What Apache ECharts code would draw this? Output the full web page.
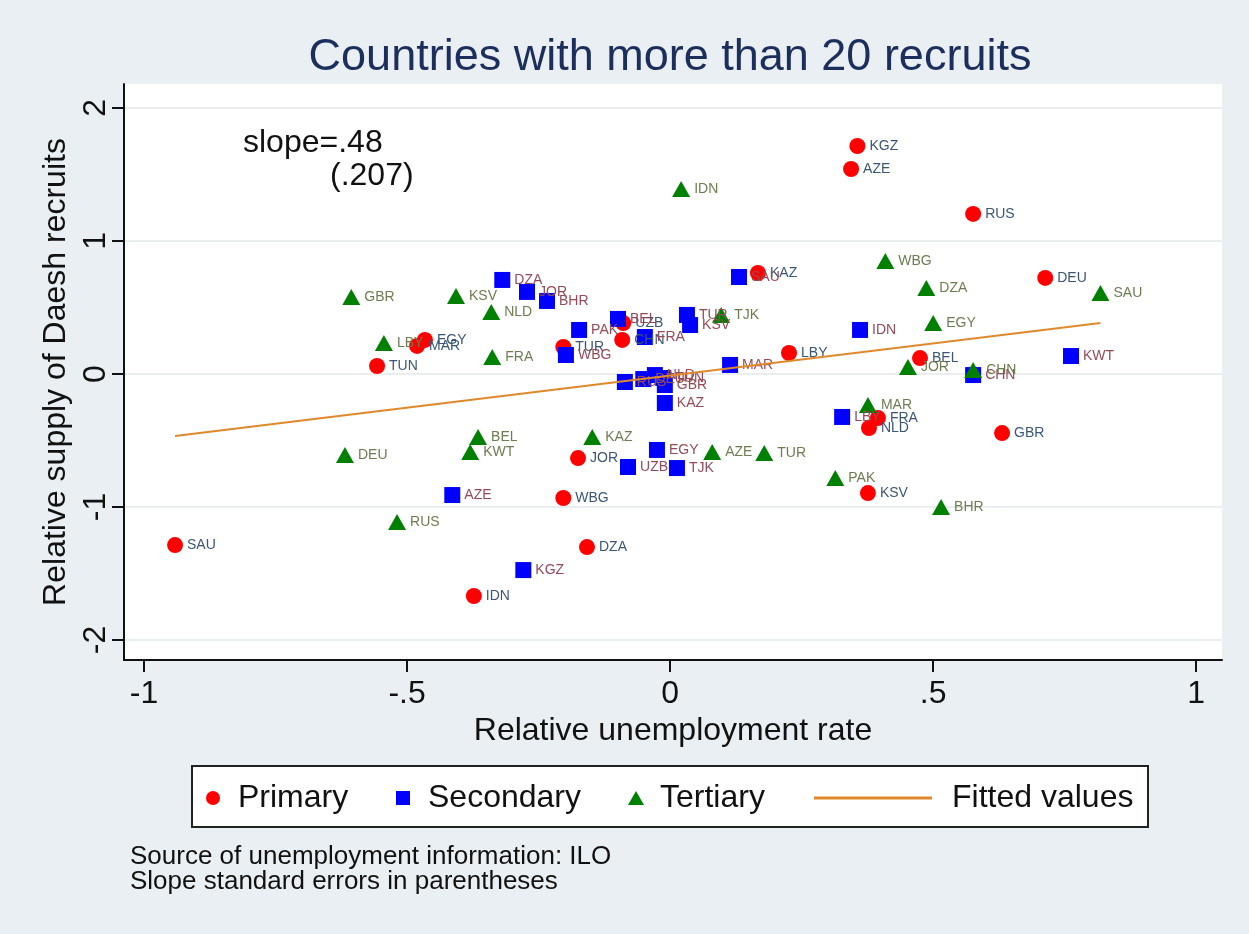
<!DOCTYPE html>
<html>
<head>
<meta charset="utf-8">
<script src="https://cdn.jsdelivr.net/npm/echarts@6/dist/echarts.min.js"></script>
<style>
  html, body { margin: 0; padding: 0; background: #e9eff3; }
  #chart { width: 1249px; height: 934px; }
</style>
</head>
<body>
<div id="chart"></div>
<script>
// Primary-education recruits: relative unemployment vs relative supply
const primaryCodes = ['KGZ','AZE','RUS','KAZ','DEU','BEL','LBY','GBR','NLD','FRA','KSV','JOR','WBG','DZA','IDN','SAU','TUN','EGY','MAR','TUR','UZB','CHN'];
const primaryX = [0.356, 0.344, 0.576, 0.167, 0.713, 0.475, 0.226, 0.631, 0.378, 0.395, 0.376, -0.175, -0.203, -0.158, -0.373, -0.941, -0.557, -0.466, -0.481, -0.203, -0.089, -0.091];
const primaryY = [1.714, 1.541, 1.203, 0.759, 0.722, 0.120, 0.158, -0.444, -0.406, -0.331, -0.895, -0.632, -0.932, -1.301, -1.669, -1.286, 0.060, 0.256, 0.211, 0.203, 0.383, 0.256];

// Secondary-education recruits
const secondaryCodes = ['DZA','JOR','BHR','PAK','WBG','BEL','FRA','TUR','KSV','SAU','MAR','RUS','DEU','NLD','TUN','GBR','KAZ','EGY','UZB','TJK','AZE','KGZ','IDN','LBY','CHN','KWT'];
const secondaryX = [-0.319, -0.272, -0.234, -0.173, -0.198, -0.099, -0.048, 0.032, 0.038, 0.131, 0.114, -0.086, -0.051, -0.029, -0.013, -0.010, -0.010, -0.025, -0.080, 0.013, -0.414, -0.279, 0.361, 0.327, 0.576, 0.762];
const secondaryY = [0.707, 0.617, 0.549, 0.331, 0.143, 0.414, 0.278, 0.444, 0.368, 0.729, 0.068, -0.060, -0.038, -0.008, -0.030, -0.083, -0.218, -0.571, -0.699, -0.707, -0.910, -1.474, 0.331, -0.323, -0.008, 0.135];

// Tertiary-education recruits
const tertiaryCodes = ['IDN','WBG','DZA','SAU','EGY','JOR','CHN','TJK','GBR','KSV','NLD','LBY','FRA','MAR','PAK','BHR','DEU','BEL','KWT','RUS','KAZ','AZE','TUR'];
const tertiaryX = [0.021, 0.409, 0.487, 0.818, 0.500, 0.452, 0.576, 0.097, -0.606, -0.407, -0.340, -0.544, -0.338, 0.376, 0.314, 0.515, -0.618, -0.365, -0.380, -0.519, -0.148, 0.080, 0.179];
const tertiaryY = [1.391, 0.850, 0.647, 0.609, 0.383, 0.053, 0.030, 0.444, 0.579, 0.586, 0.466, 0.233, 0.128, -0.233, -0.782, -1.000, -0.609, -0.474, -0.586, -1.113, -0.474, -0.586, -0.594];

// Fitted regression line endpoints
const fittedX = [-0.941, 0.818];
const fittedY = [-0.466, 0.383];

// Axis ticks
const xTicks = [-1, -0.5, 0, 0.5, 1];
const xTickLabels = ['-1', '-.5', '0', '.5', '1'];
const yTicks = [-2, -1, 0, 1, 2];
const yTickLabels = ['-2', '-1', '0', '1', '2'];

const FONT = '"Liberation Sans", Arial, Helvetica, sans-serif';
const INK = '#111111';

function points(codes, xs, ys) {
  return codes.map((c, i) => ({ name: c, value: [xs[i], ys[i]] }));
}
function tickText(ticks, labels) {
  return v => {
    const i = ticks.findIndex(t => Math.abs(t - v) < 1e-9);
    return i >= 0 ? labels[i] : '';
  };
}

function markerLabel(color) {
  return {
    show: true, position: 'right', distance: 4, formatter: '{b}',
    fontFamily: FONT, fontSize: 14, color: color
  };
}

const chart = echarts.init(document.getElementById('chart'), null, { renderer: 'canvas' });

const option = {
  backgroundColor: '#e9eff3',
  animation: false,
  textStyle: { fontFamily: FONT },
  grid: {
    left: 124, top: 84, right: 27, bottom: 274,
    show: true, backgroundColor: '#ffffff', borderWidth: 0
  },
  xAxis: {
    type: 'value', min: -1.038, max: 1.049,
    axisLine: { show: true, onZero: false, lineStyle: { color: INK, width: 2 } },
    axisTick: { show: true, customValues: xTicks, length: 12, lineStyle: { color: INK, width: 2 } },
    axisLabel: { customValues: xTicks, formatter: tickText(xTicks, xTickLabels), fontSize: 32, color: INK, margin: 18 },
    splitLine: { show: false },
    name: 'Relative unemployment rate', nameLocation: 'middle', nameGap: 54,
    nameTextStyle: { fontSize: 32, color: INK, fontFamily: FONT }
  },
  yAxis: {
    type: 'value', min: -2.15, max: 2.18,
    axisLine: { show: true, onZero: false, lineStyle: { color: INK, width: 2 } },
    axisTick: { show: true, customValues: yTicks, length: 12, lineStyle: { color: INK, width: 2 } },
    axisLabel: { customValues: yTicks, formatter: tickText(yTicks, yTickLabels), fontSize: 32, color: INK, margin: 12, rotate: 90 },
    splitLine: { show: true, lineStyle: { color: '#e3e9eb', width: 1.5 } },
    name: 'Relative supply of Daesh recruits', nameLocation: 'middle', nameGap: 52, nameRotate: 90,
    nameTextStyle: { fontSize: 32, color: INK, fontFamily: FONT }
  },
  legend: [
    { data: ['Primary'], left: 206, top: 782, padding: 0, itemWidth: 14, itemHeight: 14,
      textStyle: { fontSize: 32, color: INK, padding: [0, 0, 0, 13] } },
    { data: ['Secondary'], left: 396, top: 782, padding: 0, itemWidth: 14, itemHeight: 14,
      textStyle: { fontSize: 32, color: INK, padding: [0, 0, 0, 13] } },
    { data: ['Tertiary'], left: 628, top: 782, padding: 0, itemWidth: 16, itemHeight: 14,
      textStyle: { fontSize: 32, color: INK, padding: [0, 0, 0, 11] } },
    { data: ['Fitted values'], left: 814, top: 782, padding: 0, itemWidth: 118, itemHeight: 3, icon: 'rect',
      textStyle: { fontSize: 32, color: INK, padding: [0, 0, 0, 15] } }
  ],
  graphic: [
    { type: 'text', x: 670, y: 58, style: { text: 'Countries with more than 20 recruits', fill: '#1c2f5c',
      font: '45px ' + FONT, textAlign: 'center', textVerticalAlign: 'middle' } },
    { type: 'text', x: 243, y: 143, style: { text: 'slope=.48', fill: INK,
      font: '32px ' + FONT, textAlign: 'left', textVerticalAlign: 'middle' } },
    { type: 'text', x: 330, y: 176, style: { text: '(.207)', fill: INK,
      font: '32px ' + FONT, textAlign: 'left', textVerticalAlign: 'middle' } },
    { type: 'rect', z: 0, shape: { x: 192, y: 766, width: 956, height: 61 },
      style: { fill: '#ffffff', stroke: '#222222', lineWidth: 2 } },
    { type: 'text', x: 130, y: 857, style: { text: 'Source of unemployment information: ILO', fill: INK,
      font: '26px ' + FONT, textAlign: 'left', textVerticalAlign: 'middle' } },
    { type: 'text', x: 130, y: 882, style: { text: 'Slope standard errors in parentheses', fill: INK,
      font: '26px ' + FONT, textAlign: 'left', textVerticalAlign: 'middle' } }
  ],
  series: [
    {
      type: 'scatter', name: 'Primary', z: 3,
      symbol: 'circle', symbolSize: 16,
      itemStyle: { color: '#ff0000', opacity: 1 },
      label: markerLabel('#3b5677'),
      data: points(primaryCodes, primaryX, primaryY)
    },
    {
      type: 'scatter', name: 'Secondary', z: 3,
      symbol: 'rect', symbolSize: 16,
      itemStyle: { color: '#0000ff', opacity: 1 },
      label: markerLabel('#964a58'),
      data: points(secondaryCodes, secondaryX, secondaryY)
    },
    {
      type: 'scatter', name: 'Tertiary', z: 3,
      symbol: 'triangle', symbolSize: [18, 16],
      itemStyle: { color: '#008000', opacity: 1 },
      label: markerLabel('#6e7c52'),
      data: points(tertiaryCodes, tertiaryX, tertiaryY)
    },
    {
      type: 'line', name: 'Fitted values', z: 4,
      showSymbol: false, symbol: 'none',
      lineStyle: { color: '#e0892c', width: 2 },
      itemStyle: { color: '#e0892c' },
      data: fittedX.map((x, i) => [x, fittedY[i]])
    }
  ]
};

chart.setOption(option);
</script>
</body>
</html>
